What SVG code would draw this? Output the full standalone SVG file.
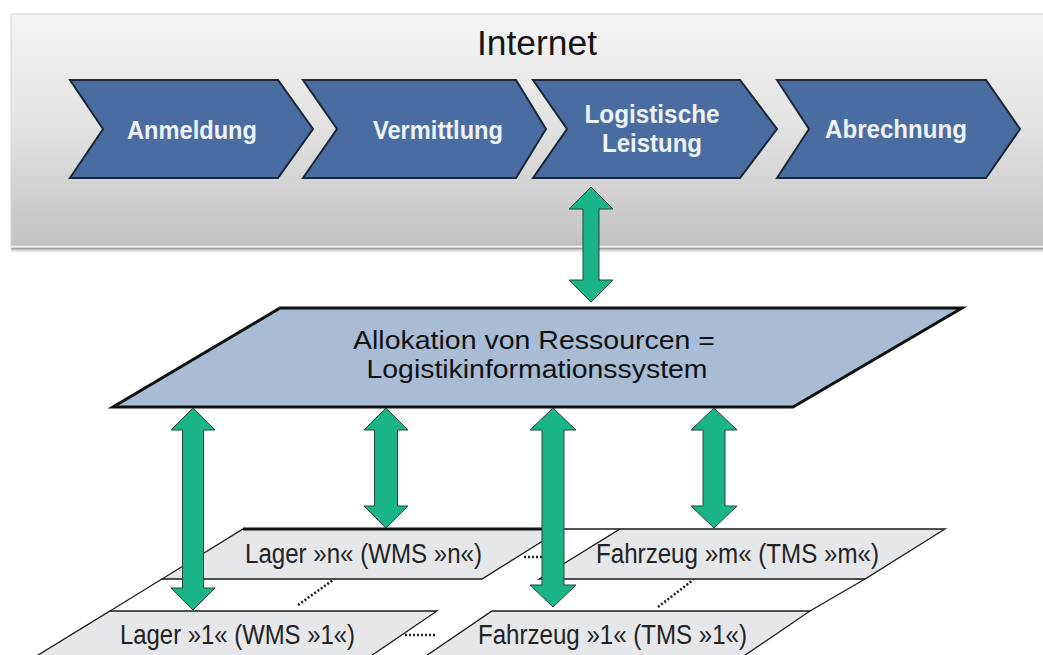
<svg xmlns="http://www.w3.org/2000/svg" width="1043" height="655" viewBox="0 0 1043 655">
  <defs>
    <linearGradient id="panelGrad" x1="0" y1="0" x2="0" y2="1">
      <stop offset="0" stop-color="#f4f4f4"/>
      <stop offset="0.45" stop-color="#e4e4e4"/>
      <stop offset="1" stop-color="#c2c2c2"/>
    </linearGradient>
    <linearGradient id="shadowGrad" x1="0" y1="0" x2="0" y2="1">
      <stop offset="0" stop-color="#8f8f8f"/>
      <stop offset="1" stop-color="#ffffff" stop-opacity="0"/>
    </linearGradient>
    <style>
      .chev { fill: #4a6da1; stroke: #1c2636; stroke-width: 2; stroke-linejoin: miter; }
      .chevtxt { font-family: "Liberation Sans", Arial, sans-serif; font-weight: bold; font-size: 25px; fill: #eef2f7; text-anchor: middle; }
      .arrow { fill: #1bb487; stroke: #27463a; stroke-width: 1; stroke-linejoin: miter; }
      .plane { fill: #e6e7e9; stroke: #1a1a1a; stroke-width: 1.3; }
      .edge { fill: none; stroke: #1a1a1a; stroke-width: 1.3; }
      .dots { fill: none; stroke: #222; stroke-width: 2.6; stroke-dasharray: 2 2; }
      .lbl { font-family: "Liberation Sans", Arial, sans-serif; font-size: 27px; fill: #222; }
      .main { font-family: "Liberation Sans", Arial, sans-serif; font-size: 25px; fill: #111; text-anchor: middle; }
    </style>
  </defs>

  <rect x="0" y="0" width="1043" height="655" fill="#ffffff"/>

  <!-- Internet panel -->
  <g id="internet">
    <rect x="11" y="14" width="1040" height="234" fill="url(#panelGrad)" stroke="#d4d4d4" stroke-width="1"/>
    <line x1="11" y1="246.5" x2="1043" y2="246.5" stroke="#f4f4f4" stroke-width="1.5"/>
    <rect x="11" y="248" width="1032" height="6" fill="url(#shadowGrad)"/>
    <text x="537" y="55" font-family="Liberation Sans, Arial, sans-serif" font-size="35" fill="#151515" text-anchor="middle" textLength="120" lengthAdjust="spacingAndGlyphs">Internet</text>
  </g>

  <g id="anmeldung">
    <polygon class="chev" points="70,80 278,80 313,129 278,178 70,178 103,129"/>
    <text class="chevtxt" x="192" y="139" textLength="130" lengthAdjust="spacingAndGlyphs">Anmeldung</text>
  </g>
  <g id="vermittlung">
    <polygon class="chev" points="303,80 516,80 546,129 516,178 303,178 337,129"/>
    <text class="chevtxt" x="438" y="139" textLength="130" lengthAdjust="spacingAndGlyphs">Vermittlung</text>
  </g>
  <g id="logistische-leistung">
    <polygon class="chev" points="533,80 740,80 777,129 740,178 533,178 567,129"/>
    <text class="chevtxt" x="652" y="123" textLength="135" lengthAdjust="spacingAndGlyphs">Logistische</text>
    <text class="chevtxt" x="652" y="152" textLength="100" lengthAdjust="spacingAndGlyphs">Leistung</text>
  </g>
  <g id="abrechnung">
    <polygon class="chev" points="777,80 986,80 1020,129 986,178 777,178 809,129"/>
    <text class="chevtxt" x="896" y="138" textLength="142" lengthAdjust="spacingAndGlyphs">Abrechnung</text>
  </g>

  <!-- Allocation layer -->
  <g id="allokation">
    <polygon points="280,308 962,308 793,407 113,407" fill="#a8bdd5" stroke="#111" stroke-width="3" stroke-linejoin="miter"/>
    <text class="main" x="534" y="349" textLength="362" lengthAdjust="spacingAndGlyphs">Allokation von Ressourcen =</text>
    <text class="main" x="537" y="378" textLength="341" lengthAdjust="spacingAndGlyphs">Logistikinformationssystem</text>
  </g>

  <!-- Resource planes -->
  <g id="lager-1">
    <polygon class="plane" points="110,611 437,611 365,660 30,660"/>
    <text class="lbl" x="120" y="644" textLength="235" lengthAdjust="spacingAndGlyphs">Lager »1« (WMS »1«)</text>
  </g>
  <g id="fahrzeug-1">
    <polygon class="plane" points="492,611 810,611 738,660 420,660"/>
    <text class="lbl" x="478" y="644" textLength="269" lengthAdjust="spacingAndGlyphs">Fahrzeug »1« (TMS »1«)</text>
  </g>
  <g id="lager-n">
    <polygon class="plane" points="243,529 562,529 482,579 162,579"/>
    <line x1="243" y1="529" x2="562" y2="529" stroke="#111" stroke-width="3"/>
    <text class="lbl" x="245" y="563" textLength="237" lengthAdjust="spacingAndGlyphs">Lager »n« (WMS »n«)</text>
  </g>
  <g id="fahrzeug-m">
    <polygon class="plane" points="620,529 945,529 865,579 539,579"/>
    <text class="lbl" x="596" y="563" textLength="283" lengthAdjust="spacingAndGlyphs">Fahrzeug »m« (TMS »m«)</text>
  </g>

  <!-- connectors -->
  <g id="connectors">
    <line class="edge" x1="162" y1="579" x2="110" y2="611"/>
    <line class="edge" x1="865" y1="579" x2="810" y2="611"/>
    <line class="edge" x1="562" y1="529" x2="620" y2="529"/>
    <line class="dots" x1="298" y1="605" x2="333" y2="580"/>
    <line class="dots" x1="658" y1="607" x2="693" y2="580"/>
    <line class="dots" x1="405" y1="635" x2="436" y2="635"/>
    <line class="dots" x1="524" y1="557" x2="542" y2="557"/>

    <path class="arrow" d="M591,187 L613,209 L599,209 L599,280 L613,280 L591,302 L569,280 L583,280 L583,209 L569,209 Z"/>
    <path class="arrow" d="M193,408 L215,430 L203.5,430 L203.5,588 L215,588 L193,610 L171,588 L182.5,588 L182.5,430 L171,430 Z"/>
    <path class="arrow" d="M386,408 L408,430 L397.5,430 L397.5,506 L408,506 L386,528 L364,506 L374.5,506 L374.5,430 L364,430 Z"/>
    <path class="arrow" d="M553,408 L576,430 L564,430 L564,585 L576,585 L553,607 L530,585 L542,585 L542,430 L530,430 Z"/>
    <path class="arrow" d="M714,408 L737,430 L725,430 L725,506 L737,506 L714,528 L691,506 L703,506 L703,430 L691,430 Z"/>
  </g>
</svg>
